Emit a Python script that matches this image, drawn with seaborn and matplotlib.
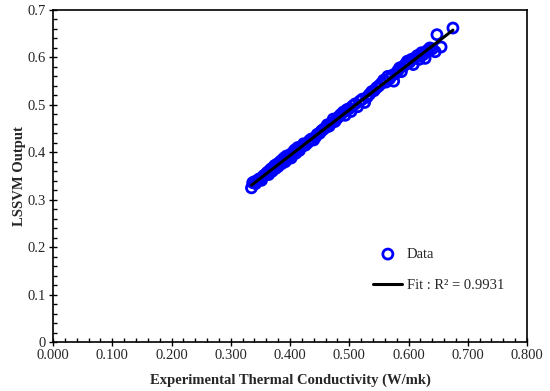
import numpy as np
import pandas as pd
import matplotlib
matplotlib.use("Agg")
import matplotlib.pyplot as plt
import seaborn as sns
from matplotlib.ticker import MultipleLocator, FixedLocator

experimental = [0.335, 0.337, 0.340, 0.342, 0.345, 0.347, 0.350, 0.352, 0.355, 0.357,
                0.360, 0.362, 0.364, 0.366, 0.368, 0.370, 0.372, 0.374, 0.376, 0.378,
                0.380, 0.382, 0.384, 0.386, 0.388, 0.390, 0.392, 0.394, 0.396, 0.398,
                0.400, 0.402, 0.405, 0.408, 0.410, 0.413, 0.416, 0.420, 0.423, 0.426,
                0.430, 0.433, 0.436, 0.440, 0.443, 0.446, 0.450, 0.453, 0.456, 0.460,
                0.463, 0.466, 0.470, 0.473, 0.476, 0.480, 0.483, 0.486, 0.490, 0.493,
                0.496, 0.500, 0.503, 0.506, 0.510, 0.514, 0.518, 0.522, 0.526, 0.530,
                0.534, 0.538, 0.542, 0.546, 0.550, 0.554, 0.558, 0.562, 0.565, 0.568,
                0.572, 0.575, 0.578, 0.582, 0.585, 0.588, 0.592, 0.595, 0.598, 0.602,
                0.605, 0.608, 0.612, 0.615, 0.618, 0.622, 0.625, 0.628, 0.632, 0.636,
                0.640, 0.645, 0.648, 0.655, 0.675]
lssvm = [0.325, 0.336, 0.338, 0.334, 0.340, 0.343, 0.345, 0.341, 0.350, 0.352,
         0.355, 0.358, 0.353, 0.362, 0.365, 0.360, 0.368, 0.372, 0.366, 0.375,
         0.370, 0.378, 0.381, 0.376, 0.385, 0.388, 0.380, 0.392, 0.386, 0.390,
         0.395, 0.388, 0.400, 0.405, 0.398, 0.410, 0.404, 0.412, 0.418, 0.415,
         0.420, 0.425, 0.428, 0.426, 0.432, 0.438, 0.440, 0.445, 0.448, 0.452,
         0.458, 0.455, 0.462, 0.470, 0.465, 0.472, 0.476, 0.480, 0.485, 0.478,
         0.490, 0.492, 0.486, 0.498, 0.502, 0.496, 0.508, 0.512, 0.505, 0.516,
         0.522, 0.528, 0.530, 0.536, 0.540, 0.545, 0.552, 0.548, 0.560, 0.555,
         0.562, 0.550, 0.566, 0.572, 0.578, 0.570, 0.582, 0.586, 0.592, 0.590,
         0.596, 0.585, 0.600, 0.604, 0.596, 0.610, 0.606, 0.598, 0.615, 0.620,
         0.618, 0.612, 0.648, 0.622, 0.662]
r2_value = 0.9931

x_ticks = [0.0, 0.1, 0.2, 0.3, 0.4, 0.5, 0.6, 0.7, 0.8]
x_ticklabels = ["0.000", "0.100", "0.200", "0.300", "0.400", "0.500", "0.600", "0.700", "0.800"]
y_ticks = [0.0, 0.1, 0.2, 0.3, 0.4, 0.5, 0.6, 0.7]
y_ticklabels = ["0", "0.1", "0.2", "0.3", "0.4", "0.5", "0.6", "0.7"]

df = pd.DataFrame({"exp": experimental, "out": lssvm})

sns.set_style("white")
plt.rcParams["font.family"] = ["Liberation Serif", "DejaVu Serif"]

fig = plt.figure(figsize=(5.5, 3.91), dpi=100)
ax = fig.add_axes([53/550, 1 - 342/391, (527 - 53)/550, (342 - 10)/391])

sns.scatterplot(data=df, x="exp", y="out", ax=ax, marker="o", s=52,
                facecolors="none", edgecolor="#0000FF", linewidth=2.0,
                label="Data", zorder=2)
sns.regplot(data=df, x="exp", y="out", ax=ax, scatter=False, ci=None,
            color="black", line_kws=dict(lw=2.2, zorder=3),
            label=f"Fit : R\u00b2 = {r2_value:.4f}")

ax.set_xlim(0, 0.8)
ax.set_ylim(0, 0.7)
ax.xaxis.set_major_locator(FixedLocator(x_ticks))
ax.set_xticklabels(x_ticklabels)
ax.yaxis.set_major_locator(FixedLocator(y_ticks))
ax.set_yticklabels(y_ticklabels)
ax.xaxis.set_minor_locator(MultipleLocator(0.02))
ax.yaxis.set_minor_locator(MultipleLocator(0.02))
ax.tick_params(which="major", direction="inout", length=6, width=1, color="black",
               labelsize=10.5, bottom=True, left=True, top=False, right=False, pad=2)
ax.tick_params(which="minor", direction="in", length=3, width=1, color="black",
               bottom=True, left=True, top=False, right=False)
for sp in ax.spines.values():
    sp.set_color("black")
    sp.set_linewidth(1.2)

ax.set_xlabel("Experimental Thermal Conductivity (W/mk)", fontsize=10.5, fontweight="bold", labelpad=8)
ax.set_ylabel("LSSVM Output", fontsize=10.5, fontweight="bold", labelpad=1)

ax.legend(frameon=False, loc="lower left", bbox_to_anchor=(0.648, 0.11),
          fontsize=10.5, labelspacing=1.25, handlelength=2.0, handletextpad=0.3)

fig.savefig("out.png", dpi=100)
